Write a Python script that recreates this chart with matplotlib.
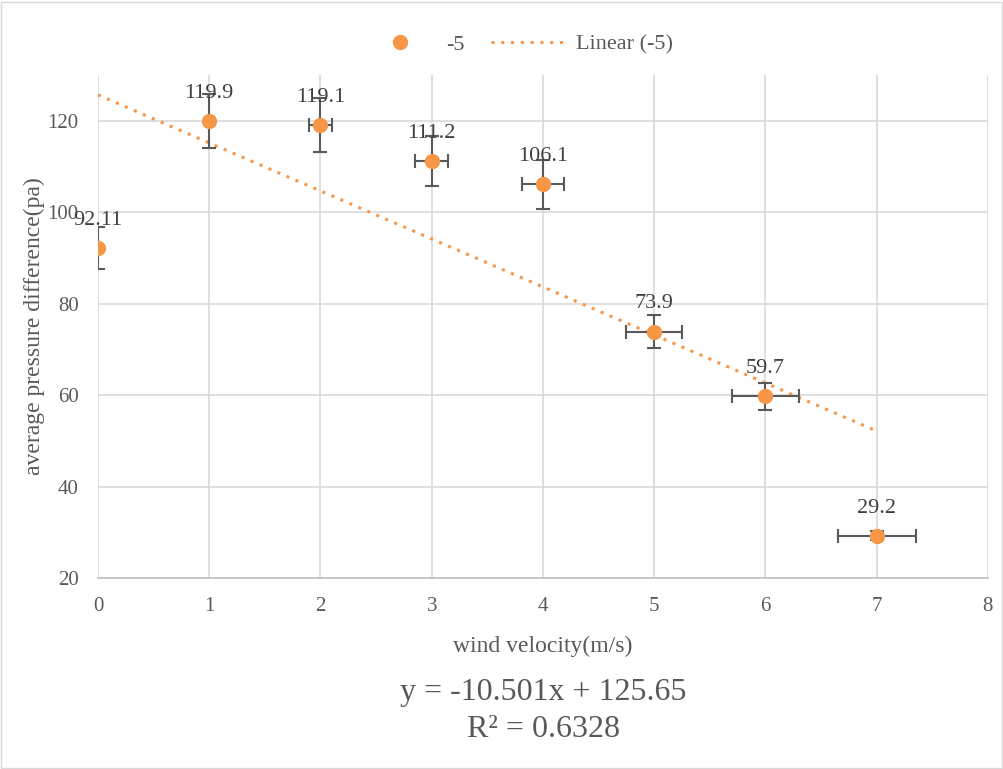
import numpy as np
import matplotlib.pyplot as plt

plt.rcParams['font.family'] = ['Liberation Serif', 'DejaVu Serif']

# data
wind = [0, 1, 2, 3, 4, 5, 6, 7]
pressure = [92.11, 119.9, 119.1, 111.2, 106.1, 73.9, 59.7, 29.2]
y_err = [4.6, 5.9, 5.9, 5.4, 5.4, 3.7, 3.0, 1.0]
x_err = [0, 0, 0.1, 0.15, 0.19, 0.25, 0.3, 0.35]
labels = ['92.11', '119.9', '119.1', '111.2', '106.1', '73.9', '59.7', '29.2']
slope, intercept, r2 = -10.501, 125.65, 0.6328

orange = '#F79646'
grey = '#595959'

fig = plt.figure(figsize=(10.04, 7.69), dpi=100)
ax = fig.add_axes([0.0976, 0.2484, 0.8864, 0.6541])

ax.errorbar(wind, pressure, yerr=y_err, xerr=x_err, fmt='none', ecolor=grey,
            elinewidth=1.5, capsize=5, capthick=1.5, zorder=3)
ax.plot(wind, pressure, 'o', color=orange, markersize=10, label='-5', zorder=4)

xfit = np.array([wind[0], wind[-1]])
ax.plot(xfit, slope * xfit + intercept, linestyle=(0, (1, 2.2)), color=orange,
        linewidth=2.2, label='Linear (-5)', zorder=2)

for x, y, t in zip(wind, pressure, labels):
    ax.annotate(t, (x, y), xytext=(0, 13), textcoords='offset points',
                ha='center', va='bottom', fontsize=16, color='#404040', zorder=5)

ax.set_xlim(0, 8)
ax.set_ylim(20, 130)
ax.set_xticks(range(0, 9))
ax.set_yticks(range(20, 121, 20))
ax.grid(True, color='#D9D9D9', linewidth=1.2)
ax.set_axisbelow(True)
for s in ['top', 'right', 'left']:
    ax.spines[s].set_visible(False)
ax.spines['bottom'].set_color('#BFBFBF')
ax.spines['bottom'].set_linewidth(1.2)
ax.tick_params(length=0, labelsize=15, colors=grey)
ax.tick_params(axis='x', pad=14)
ax.tick_params(axis='y', pad=14)

ax.set_xlabel('wind velocity(m/s)', fontsize=17, color=grey, labelpad=14)
ax.set_ylabel('average pressure difference(pa)', fontsize=17, color=grey, labelpad=2)

fig.text(0.541, 0.099, 'y = -10.501x + 125.65', ha='center', va='center', fontsize=23, color=grey)
fig.text(0.541, 0.052, 'R\u00b2 = 0.6328', ha='center', va='center', fontsize=23, color=grey)

ax.legend(loc='center', bbox_to_anchor=(0.515, 0.942), bbox_transform=fig.transFigure,
          ncol=2, frameon=False, fontsize=16, labelcolor=grey, handlelength=3.5,
          columnspacing=1.2, handletextpad=0.3)

fig.patches.append(plt.Rectangle((0.001, 0.001), 0.997, 0.997, transform=fig.transFigure,
                                 fill=False, edgecolor='#D9D9D9', linewidth=1))

fig.savefig('out.png', dpi=100)
